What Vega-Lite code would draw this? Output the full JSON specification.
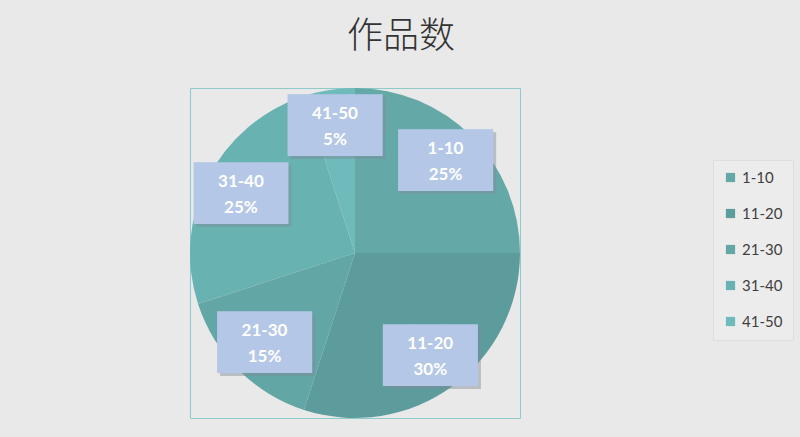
{
  "$schema": "https://vega.github.io/schema/vega-lite/v6.json",
  "description": "作品数 pie chart by range",
  "width": 330,
  "height": 330,
  "autosize": {"type": "none"},
  "padding": {"left": 190, "top": 88, "right": 280, "bottom": 19},
  "background": "#e9e9e9",
  "view": {"stroke": "#8fcaca", "strokeWidth": 1},
  "title": {
    "text": "作品数",
    "font": "Noto Sans CJK SC",
    "fontSize": 36,
    "fontWeight": 300,
    "color": "#333333",
    "frame": "group",
    "anchor": "middle",
    "dx": 46,
    "offset": 32
  },
  "data": {
    "values": [
      {"group": "1-10", "share": 0.25},
      {"group": "11-20", "share": 0.30},
      {"group": "21-30", "share": 0.15},
      {"group": "31-40", "share": 0.25},
      {"group": "41-50", "share": 0.05}
    ]
  },
  "encoding": {
    "theta": {"field": "share", "type": "quantitative", "stack": true},
    "order": {"field": "group", "type": "ordinal"}
  },
  "layer": [
    {
      "mark": {"type": "arc", "outerRadius": 165},
      "encoding": {
        "color": {
          "field": "group",
          "type": "nominal",
          "scale": {"range": ["#64a8a8", "#5c9c9c", "#62a6a6", "#69b2b2", "#6fbbbb"]},
          "legend": {
            "orient": "none",
            "legendX": 523,
            "legendY": 72,
            "title": null,
            "fillColor": "#ececec",
            "strokeColor": "#dedede",
            "padding": 10,
            "rowPadding": 20,
            "symbolType": "square",
            "symbolSize": 85,
            "symbolStrokeWidth": 0,
            "labelFont": "Lato",
            "labelFontSize": 15,
            "labelColor": "#404040",
            "labelOffset": 4
          }
        }
      }
    },
    {
      "mark": {
        "type": "text",
        "radius": 128,
        "text": "███",
        "font": "DejaVu Sans Mono",
        "fontSize": 52,
        "color": "#7d8c99",
        "opacity": 0.45,
        "dx": 3,
        "dy": 3,
        "baseline": "middle"
      },
      "encoding": {"detail": {"field": "group"}}
    },
    {
      "mark": {
        "type": "text",
        "radius": 128,
        "text": "███",
        "font": "DejaVu Sans Mono",
        "fontSize": 52,
        "color": "#b4c7e7",
        "baseline": "middle"
      },
      "encoding": {"detail": {"field": "group"}}
    },
    {
      "mark": {
        "type": "text",
        "radius": 128,
        "font": "Lato",
        "fontSize": 17,
        "fontWeight": "bold",
        "color": "#ffffff",
        "dy": -13,
        "baseline": "middle"
      },
      "encoding": {"text": {"field": "group"}, "detail": {"field": "group"}}
    },
    {
      "mark": {
        "type": "text",
        "radius": 128,
        "font": "Lato",
        "fontSize": 17,
        "fontWeight": "bold",
        "color": "#ffffff",
        "dy": 13,
        "baseline": "middle"
      },
      "encoding": {
        "text": {"field": "share", "type": "quantitative", "format": ".0%"},
        "detail": {"field": "group"}
      }
    }
  ]
}
